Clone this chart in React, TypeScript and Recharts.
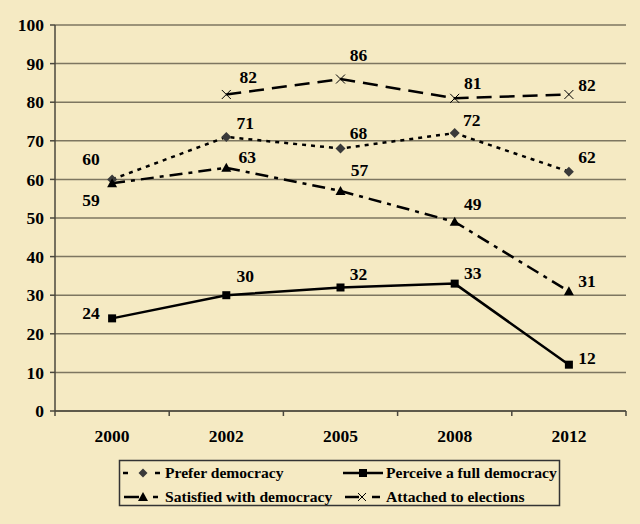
import React from 'react';
import { LineChart, Line, XAxis, YAxis, CartesianGrid } from 'recharts';

const years = ['2000', '2002', '2005', '2008', '2012'];
const preferDemocracy = [60, 71, 68, 72, 62];
const perceiveFullDemocracy = [24, 30, 32, 33, 12];
const satisfiedWithDemocracy = [59, 63, 57, 49, 31];
const attachedToElections: (number | null)[] = [null, 82, 86, 81, 82];
const yTicks = [0, 10, 20, 30, 40, 50, 60, 70, 80, 90, 100];

const seriesNames = {
  prefer: 'Prefer democracy',
  perceive: 'Perceive a full democracy',
  satisfied: 'Satisfied with democracy',
  attached: 'Attached to elections',
};

const data = years.map((year, i) => ({
  year,
  prefer: preferDemocracy[i],
  perceive: perceiveFullDemocracy[i],
  satisfied: satisfiedWithDemocracy[i],
  attached: attachedToElections[i],
}));

// label offsets (dx, dy) from each point — styling only
const labelOffsets: Record<string, [number, number][]> = {
  prefer: [[-21, -21], [19, -14], [18, -16], [17, -13], [18, -15]],
  perceive: [[-21, -5], [19, -19], [18, -14], [18, -11], [18, -7]],
  satisfied: [[-21, 17], [21, -11], [19, -21], [18, -18], [18, -10]],
  attached: [[0, 0], [22, -18], [18, -24], [18, -15], [18, -10]],
};

const W = 640;
const H = 524;
const M = { top: 25, right: 14, bottom: 73, left: 0 };
const Y_W = 55;
const X_H = 40;
const PLOT_W = W - M.left - M.right - Y_W;
const BAND = PLOT_W / years.length;

const BG = '#F5EAC3';
const GRID = '#7d7660';
const AXIS = '#4a473d';
const FONT = '"Liberation Serif", "Times New Roman", serif';
const TICK_FS = 17.5;
const LABEL_FS = 17.5;
const LEGEND_FS = 15.6;

const makeLabel = (key: string) => (props: any) => {
  const { x, y, value, index } = props;
  if (value == null || x == null || y == null) return <g key={`l-${key}-${index}`} />;
  const [dx, dy] = labelOffsets[key][index];
  return (
    <text
      key={`l-${key}-${index}`}
      x={x + dx}
      y={y + dy}
      dy="0.35em"
      textAnchor="middle"
      fontFamily={FONT}
      fontWeight="bold"
      fontSize={LABEL_FS}
      fill="#000"
    >
      {value}
    </text>
  );
};

const diamondDot = (props: any) => {
  const { cx, cy, index } = props;
  if (cx == null || cy == null) return <g key={`d-${index}`} />;
  const s = 5;
  return (
    <path
      key={`d-${index}`}
      d={`M${cx},${cy - s}L${cx + s},${cy}L${cx},${cy + s}L${cx - s},${cy}Z`}
      fill="#3a3a3a"
    />
  );
};

const squareDot = (props: any) => {
  const { cx, cy, index } = props;
  if (cx == null || cy == null) return <g key={`s-${index}`} />;
  const s = 4;
  return <rect key={`s-${index}`} x={cx - s} y={cy - s} width={2 * s} height={2 * s} fill="#000" />;
};

const triangleDot = (props: any) => {
  const { cx, cy, index } = props;
  if (cx == null || cy == null) return <g key={`t-${index}`} />;
  return (
    <path
      key={`t-${index}`}
      d={`M${cx},${cy - 5}L${cx + 5},${cy + 4}L${cx - 5},${cy + 4}Z`}
      fill="#000"
    />
  );
};

const crossDot = (props: any) => {
  const { cx, cy, index } = props;
  if (cx == null || cy == null) return <g key={`x-${index}`} />;
  const s = 4.5;
  return (
    <path
      key={`x-${index}`}
      d={`M${cx - s},${cy - s}L${cx + s},${cy + s}M${cx - s},${cy + s}L${cx + s},${cy - s}`}
      stroke="#000"
      strokeWidth={1}
      fill="none"
    />
  );
};

const XTick = (props: any) => {
  const { x, y, payload, index } = props;
  const half = BAND / 2;
  const axisY = y - 7;
  return (
    <g>
      <line x1={x - half} x2={x - half} y1={axisY} y2={axisY + 5} stroke={AXIS} strokeWidth={1.5} />
      {index === years.length - 1 && (
        <line x1={x + half} x2={x + half} y1={axisY} y2={axisY + 5} stroke={AXIS} strokeWidth={1.5} />
      )}
      <text
        x={x}
        y={y + 24}
        textAnchor="middle"
        fontFamily={FONT}
        fontWeight="bold"
        fontSize={TICK_FS}
        fill="#000"
      >
        {payload.value}
      </text>
    </g>
  );
};

const YTick = (props: any) => {
  const { y, payload } = props;
  const axisX = M.left + Y_W;
  return (
    <g>
      <line x1={axisX - 5} x2={axisX} y1={y} y2={y} stroke={AXIS} strokeWidth={1.5} />
      <text
        x={axisX - 11}
        y={y}
        dy="0.35em"
        textAnchor="end"
        fontFamily={FONT}
        fontWeight="bold"
        fontSize={TICK_FS}
        fill="#000"
      >
        {payload.value}
      </text>
    </g>
  );
};

const Legend = () => (
  <svg
    width={441}
    height={46}
    style={{ position: 'absolute', left: 119, top: 460, overflow: 'visible' }}
  >
    <rect x={0.5} y={0.5} width={440} height={45} fill="none" stroke="#333" strokeWidth={1.5} />
    {/* Prefer */}
    <line x1={4} x2={9} y1={13} y2={13} stroke="#000" strokeWidth={2.5} />
    <path d="M24,8.5L28.5,13L24,17.5L19.5,13Z" fill="#3a3a3a" />
    <line x1={36} x2={41} y1={13} y2={13} stroke="#000" strokeWidth={2.5} />
    <text x={46} y={18} fontFamily={FONT} fontWeight="bold" fontSize={LEGEND_FS}>
      {seriesNames.prefer}
    </text>
    {/* Perceive */}
    <line x1={224} x2={264} y1={13} y2={13} stroke="#000" strokeWidth={2.5} />
    <rect x={240} y={9} width={8} height={8} fill="#000" />
    <text x={267} y={18} fontFamily={FONT} fontWeight="bold" fontSize={LEGEND_FS}>
      {seriesNames.perceive}
    </text>
    {/* Satisfied */}
    <line x1={5} x2={20} y1={37} y2={37} stroke="#000" strokeWidth={2.5} />
    <path d="M24,32L29,41L19,41Z" fill="#000" />
    <line x1={34} x2={39} y1={37} y2={37} stroke="#000" strokeWidth={2.5} />
    <text x={46} y={42} fontFamily={FONT} fontWeight="bold" fontSize={LEGEND_FS}>
      {seriesNames.satisfied}
    </text>
    {/* Attached */}
    <line x1={226} x2={240} y1={37} y2={37} stroke="#000" strokeWidth={2.5} />
    <path d="M239,33L247,41M239,41L247,33" stroke="#000" strokeWidth={1} />
    <line x1={253} x2={261} y1={37} y2={37} stroke="#000" strokeWidth={2.5} />
    <text x={267} y={42} fontFamily={FONT} fontWeight="bold" fontSize={LEGEND_FS}>
      {seriesNames.attached}
    </text>
  </svg>
);

export default function App() {
  return (
    <div style={{ position: 'absolute', left: 0, top: 0, width: W, height: H, background: BG }}>
      <LineChart width={W} height={H} data={data} margin={M}>
        <CartesianGrid vertical={false} stroke={GRID} strokeWidth={1.5} />
        <XAxis
          dataKey="year"
          scale="band"
          height={X_H}
          axisLine={{ stroke: AXIS, strokeWidth: 1.5 }}
          tickLine={false}
          tickSize={5}
          tickMargin={2}
          tick={<XTick />}
          interval={0}
        />
        <YAxis
          width={Y_W}
          domain={[0, 100]}
          ticks={yTicks}
          interval={0}
          axisLine={{ stroke: AXIS, strokeWidth: 1.5 }}
          tickLine={false}
          tick={<YTick />}
        />
        <YAxis
          yAxisId="r"
          orientation="right"
          width={0}
          domain={[0, 100]}
          tick={false}
          tickLine={false}
          axisLine={{ stroke: AXIS, strokeWidth: 1.5 }}
        />
        <Line
          dataKey="prefer"
          name={seriesNames.prefer}
          stroke="#000"
          strokeWidth={2.5}
          strokeDasharray="4 5"
          dot={diamondDot}
          activeDot={false}
          label={makeLabel('prefer')}
          isAnimationActive={false}
        />
        <Line
          dataKey="perceive"
          name={seriesNames.perceive}
          stroke="#000"
          strokeWidth={2.5}
          dot={squareDot}
          activeDot={false}
          label={makeLabel('perceive')}
          isAnimationActive={false}
        />
        <Line
          dataKey="satisfied"
          name={seriesNames.satisfied}
          stroke="#000"
          strokeWidth={2.5}
          strokeDasharray="13 6 4 6"
          dot={triangleDot}
          activeDot={false}
          label={makeLabel('satisfied')}
          isAnimationActive={false}
        />
        <Line
          dataKey="attached"
          name={seriesNames.attached}
          stroke="#000"
          strokeWidth={2.5}
          strokeDasharray="15 8"
          dot={crossDot}
          activeDot={false}
          label={makeLabel('attached')}
          isAnimationActive={false}
        />
      </LineChart>
      <Legend />
    </div>
  );
}
